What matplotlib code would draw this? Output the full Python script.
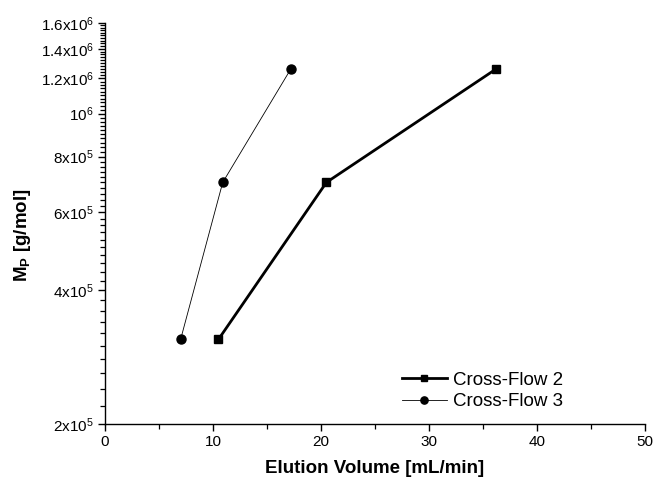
import matplotlib
matplotlib.use("Agg")
import matplotlib.pyplot as plt
import numpy as np
from matplotlib.ticker import FixedLocator, NullFormatter

plt.rcParams["font.family"] = ["Liberation Sans", "DejaVu Sans"]
plt.rcParams["mathtext.fontset"] = "custom"
plt.rcParams["mathtext.rm"] = "Liberation Sans"
plt.rcParams["mathtext.it"] = "Liberation Sans:italic"
plt.rcParams["mathtext.bf"] = "Liberation Sans:bold"

# Elution volume vs. peak molar mass for two cross-flow settings
cf2_volume = [10.5, 20.5, 36.2]
cf2_mass = [3.1e5, 7.0e5, 1.26e6]
cf3_volume = [7.0, 10.9, 17.2]
cf3_mass = [3.1e5, 7.0e5, 1.26e6]

y_major = [2e5, 4e5, 6e5, 8e5, 1e6, 1.2e6, 1.4e6, 1.6e6]
y_labels = [r"2x10$^{5}$", r"4x10$^{5}$", r"6x10$^{5}$", r"8x10$^{5}$",
            r"10$^{6}$", r"1.2x10$^{6}$", r"1.4x10$^{6}$", r"1.6x10$^{6}$"]
x_major = [0, 10, 20, 30, 40, 50]

fig = plt.figure(figsize=(6.56, 4.83), dpi=100)
ax = fig.add_axes([105 / 656, 1 - 424 / 483, 540 / 656, 401 / 483])

ax.plot(cf2_volume, cf2_mass, color="black", lw=2.0, marker="s", ms=5.5,
        label="Cross-Flow 2")
ax.plot(cf3_volume, cf3_mass, color="black", lw=0.6, marker="o", ms=6.5,
        label="Cross-Flow 3")

ax.set_yscale("log")
ax.set_xlim(0, 50)
ax.set_ylim(2e5, 1.6e6)

ax.xaxis.set_major_locator(FixedLocator(x_major))
ax.xaxis.set_minor_locator(FixedLocator([5, 15, 25, 35, 45]))
ax.set_xticklabels([str(v) for v in x_major])

ax.yaxis.set_major_locator(FixedLocator(y_major))
minor = [v for v in np.arange(2e5, 1.6e6 + 1, 2e4)
         if not any(abs(v - m) < 1 for m in y_major)]
ax.yaxis.set_minor_locator(FixedLocator(minor))
ax.yaxis.set_minor_formatter(NullFormatter())
ax.set_yticklabels(y_labels)

ax.spines["top"].set_visible(False)
ax.spines["right"].set_visible(False)
for s in ("left", "bottom"):
    ax.spines[s].set_linewidth(1.0)

ax.tick_params(axis="both", which="major", direction="out", length=5,
               width=1.0, labelsize=11, pad=3)
ax.tick_params(axis="y", which="minor", direction="out", length=3.5, width=0.9)
ax.tick_params(axis="x", which="minor", direction="out", length=3.5, width=0.9)

ax.set_xlabel("Elution Volume [mL/min]", fontsize=13.5, fontweight="bold")
ax.xaxis.set_label_coords(0.5, -0.09)
ax.set_ylabel(r"M$_\mathbf{P}$ [g/mol]", fontsize=13.5, fontweight="bold")
ax.yaxis.set_label_coords(-0.133, 0.47)

leg = ax.legend(loc="lower left", bbox_to_anchor=(0.536, 0.015), frameon=False,
                fontsize=13.5, handlelength=2.4, handletextpad=0.3,
                labelspacing=0.25, markerscale=0.8, borderaxespad=0)

fig.savefig("out.png", dpi=100)
